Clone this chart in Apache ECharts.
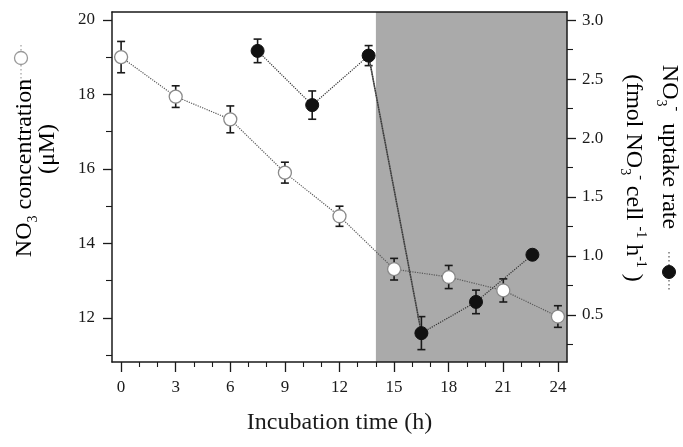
<!DOCTYPE html>
<html>
<head>
<meta charset="utf-8">
<script src="https://cdn.jsdelivr.net/npm/echarts@6/dist/echarts.min.js"></script>
<style>
    html, body { margin: 0; padding: 0; background: #fff; }
    #main { width: 683px; height: 447px; }
</style>
</head>
<body>
<div id="main"></div>
<script>
// NO3 concentration (left axis, open circles)
var concHours = [0, 3, 6, 9, 12, 15, 18, 21, 24];
var concValues = [19.0, 17.94, 17.33, 15.9, 14.73, 13.31, 13.1, 12.74, 12.04];
var concErrors = [0.42, 0.29, 0.36, 0.28, 0.27, 0.29, 0.31, 0.31, 0.29];

// NO3- uptake rate (right axis, filled circles)
var rateHours = [7.5, 10.5, 13.6, 16.5, 19.5, 22.6];
var rateValues = [2.74, 2.28, 2.70, 0.345, 0.61, 1.01];
var rateErrors = [0.10, 0.12, 0.085, 0.14, 0.10, 0];

// dark period
var darkStart = 14;

// ticks
var xTicks = [0, 3, 6, 9, 12, 15, 18, 21, 24];
var xMinorTicks = [1, 2, 4, 5, 7, 8, 10, 11, 13, 14, 16, 17, 19, 20, 22, 23];
var leftTicks = [12, 14, 16, 18, 20];
var leftMinorTicks = [11, 13, 15, 17, 19];
var rightTicks = [0.5, 1.0, 1.5, 2.0, 2.5, 3.0];
var rightMinorTicks = [0.25, 0.75, 1.25, 1.75, 2.25, 2.75];

var serif = 'Liberation Serif';
var ink = '#1a1a1a';

function pairs(xs, ys) {
    var out = [];
    for (var i = 0; i < xs.length; i++) {
        out.push([xs[i], ys[i]]);
    }
    return out;
}
function triples(xs, ys, es) {
    var out = [];
    for (var i = 0; i < xs.length; i++) {
        out.push([xs[i], ys[i], es[i]]);
    }
    return out;
}

// error bars with caps
function errorBar(params, api) {
    var x = api.value(0);
    var y = api.value(1);
    var e = api.value(2);
    if (!e) {
        return null;
    }
    var top = api.coord([x, y + e]);
    var bot = api.coord([x, y - e]);
    var hw = 4;
    var st = { stroke: ink, lineWidth: 1.6 };
    return {
        type: 'group',
        children: [
            { type: 'line', shape: { x1: top[0], y1: top[1], x2: bot[0], y2: bot[1] }, style: st },
            { type: 'line', shape: { x1: top[0] - hw, y1: top[1], x2: top[0] + hw, y2: top[1] }, style: st },
            { type: 'line', shape: { x1: bot[0] - hw, y1: bot[1], x2: bot[0] + hw, y2: bot[1] }, style: st }
        ]
    };
}

// rich text for axis titles (sub/superscripts)
var titleRich = {
    m: { fontFamily: serif, fontSize: 24, color: ink, lineHeight: 30, verticalAlign: 'middle' },
    sub: { fontFamily: serif, fontSize: 14, color: ink, lineHeight: 14, verticalAlign: 'bottom' },
    sup: { fontFamily: serif, fontSize: 14, color: ink, lineHeight: 14, verticalAlign: 'top' }
};
function titleText(x, y, rot, text) {
    return {
        type: 'text', x: x, y: y, rotation: rot,
        style: { text: text, rich: titleRich, align: 'center', verticalAlign: 'middle' }
    };
}

var myChart = echarts.init(document.getElementById('main'));

var axisLine = { show: true, onZero: false, lineStyle: { color: ink, width: 1.5 } };
var noLine = { show: false, onZero: false };

var option = {
    animation: false,
    backgroundColor: '#fff',
    grid: { left: 112, right: 116, top: 12, bottom: 85 },
    xAxis: [
        {
            type: 'value', min: -0.5, max: 24.5, position: 'bottom', z: 10,
            axisLine: axisLine,
            splitLine: { show: false },
            axisTick: { show: true, length: 10, customValues: xTicks, lineStyle: { color: ink, width: 1.3 } },
            axisLabel: { customValues: xTicks, margin: 17, color: ink, fontFamily: serif, fontSize: 17 },
            name: 'Incubation time (h)', nameLocation: 'middle', nameGap: 49,
            nameTextStyle: { color: ink, fontFamily: serif, fontSize: 24 }
        },
        {
            type: 'value', min: -0.5, max: 24.5, position: 'bottom', z: 10,
            axisLine: noLine,
            splitLine: { show: false },
            axisTick: { show: true, length: 5, customValues: xMinorTicks, lineStyle: { color: ink, width: 1.1 } },
            axisLabel: { show: false }
        },
        {
            type: 'value', min: -0.5, max: 24.5, position: 'top', z: 10,
            axisLine: axisLine,
            splitLine: { show: false },
            axisTick: { show: false },
            axisLabel: { show: false }
        }
    ],
    yAxis: [
        {
            type: 'value', min: 10.82, max: 20.21, position: 'left', z: 10,
            axisLine: axisLine,
            splitLine: { show: false },
            axisTick: { show: true, length: 9, customValues: leftTicks, lineStyle: { color: ink, width: 1.3 } },
            axisLabel: { customValues: leftTicks, margin: 17, color: ink, fontFamily: serif, fontSize: 17 }
        },
        {
            type: 'value', min: 0.1, max: 3.07, position: 'right', z: 10,
            axisLine: axisLine,
            splitLine: { show: false },
            axisTick: { show: true, length: 9, customValues: rightTicks, lineStyle: { color: ink, width: 1.3 } },
            axisLabel: {
                customValues: rightTicks, margin: 15, color: ink, fontFamily: serif, fontSize: 17,
                formatter: function (v) { return v.toFixed(1); }
            }
        },
        {
            type: 'value', min: 10.82, max: 20.21, position: 'left', z: 10,
            axisLine: noLine,
            splitLine: { show: false },
            axisTick: { show: true, length: 6, customValues: leftMinorTicks, lineStyle: { color: ink, width: 1.1 } },
            axisLabel: { show: false }
        },
        {
            type: 'value', min: 0.1, max: 3.07, position: 'right', z: 10,
            axisLine: noLine,
            splitLine: { show: false },
            axisTick: { show: true, length: 6, customValues: rightMinorTicks, lineStyle: { color: ink, width: 1.1 } },
            axisLabel: { show: false }
        }
    ],
    graphic: [
        // left axis title
        titleText(25, 168, Math.PI / 2, '{m|NO}{sub|3}{m| concentration}'),
        titleText(48, 149, Math.PI / 2, '{m|(μM)}'),
        { type: 'line', shape: { x1: 21, y1: 45, x2: 21, y2: 82 }, style: { stroke: '#888', lineWidth: 1, lineDash: [1.5, 2.5] } },
        { type: 'circle', shape: { cx: 21, cy: 58, r: 6.5 }, style: { fill: '#fff', stroke: '#999', lineWidth: 1.3 } },
        // right axis title
        titleText(669, 147, -Math.PI / 2, '{m|NO}{sub|3}{sup|-}{m|  uptake rate}'),
        titleText(633, 178, -Math.PI / 2, '{m|(fmol NO}{sub|3}{sup|-}{m| cell }{sup|-1}{m| h}{sup|-1}{m| )}'),
        { type: 'line', shape: { x1: 669, y1: 252, x2: 669, y2: 290 }, style: { stroke: '#333', lineWidth: 1, lineDash: [1.5, 2.5] } },
        { type: 'circle', shape: { cx: 669, cy: 272, r: 6.5 }, style: { fill: '#111', stroke: '#111', lineWidth: 1 } }
    ],
    series: [
        {
            // shaded dark period
            type: 'line', xAxisIndex: 0, yAxisIndex: 0, data: [], z: 1, silent: true,
            markArea: {
                silent: true,
                itemStyle: { color: '#aaaaaa' },
                data: [[{ xAxis: darkStart }, { xAxis: 24.5 }]]
            }
        },
        {
            type: 'custom', xAxisIndex: 0, yAxisIndex: 0, z: 3, silent: true,
            renderItem: errorBar,
            data: triples(concHours, concValues, concErrors)
        },
        {
            type: 'custom', xAxisIndex: 0, yAxisIndex: 1, z: 3, silent: true,
            renderItem: errorBar,
            data: triples(rateHours, rateValues, rateErrors)
        },
        {
            name: 'NO3 concentration', type: 'line', xAxisIndex: 0, yAxisIndex: 0, z: 4,
            data: pairs(concHours, concValues),
            symbol: 'circle', symbolSize: 13,
            lineStyle: { color: '#5a5a5a', width: 1.2, type: 'dotted' },
            itemStyle: { color: '#fff', borderColor: '#8a8a8a', borderWidth: 1.3 }
        },
        {
            // sharp drop at the light-dark switch
            type: 'line', xAxisIndex: 0, yAxisIndex: 1, z: 4,
            data: pairs(rateHours.slice(2, 4), rateValues.slice(2, 4)),
            symbol: 'none',
            lineStyle: { color: '#666', width: 1.6, type: 'solid' }
        },
        {
            name: 'NO3- uptake rate', type: 'line', xAxisIndex: 0, yAxisIndex: 1, z: 5,
            data: pairs(rateHours, rateValues),
            symbol: 'circle', symbolSize: 13,
            lineStyle: { color: '#333', width: 1.2, type: 'dotted' },
            itemStyle: { color: '#111', borderColor: '#111', borderWidth: 1 }
        }
    ]
};

myChart.setOption(option, true);
</script>
</body>
</html>
